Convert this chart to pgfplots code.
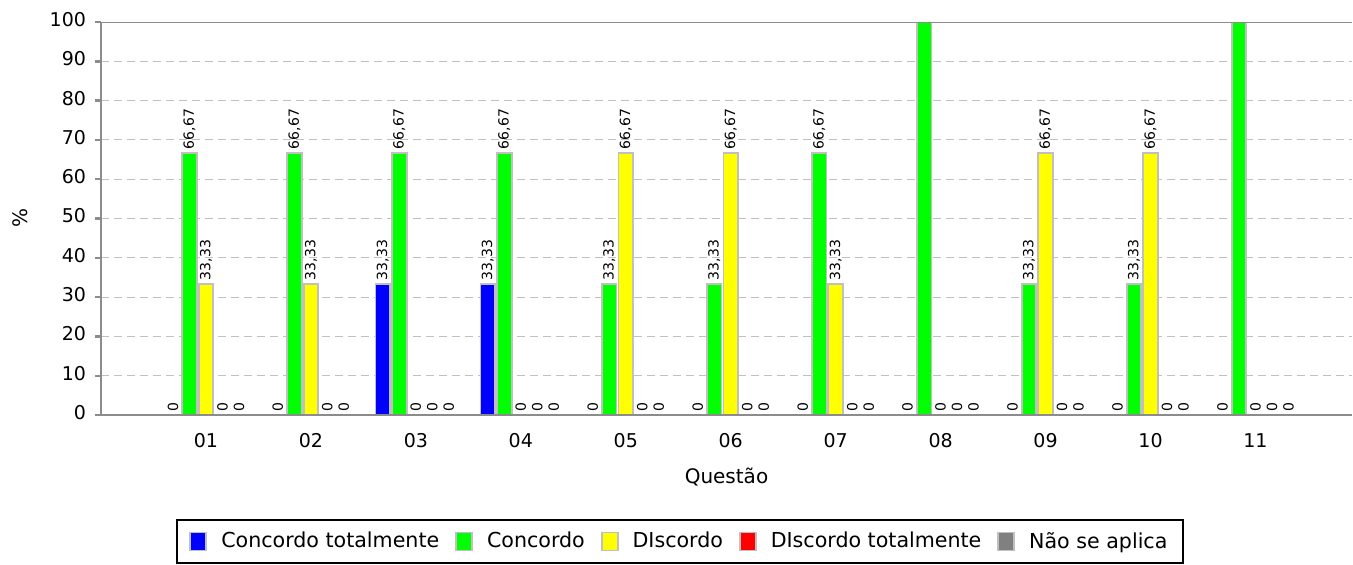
\documentclass[border=0pt]{standalone}
\usepackage{fontspec}
\setmainfont{DejaVu Sans}
\usepackage{pgfplots}
\pgfplotsset{compat=1.18}
\usepackage{pgfplotstable}

\definecolor{cBlue}{HTML}{0000FF}
\definecolor{cGreen}{HTML}{00FF00}
\definecolor{cYellow}{HTML}{FFFF00}
\definecolor{cRed}{HTML}{FF0000}
\definecolor{cGray}{HTML}{808080}
\definecolor{cBorder}{HTML}{C0C0C0}
\definecolor{cAxis}{HTML}{8C8C8C}

% values and their printed labels (labels above 100 are outside the plot and not shown)
\pgfplotstableread{
x  ct     c      d      dt  na  lct    lc     ld     ldt  lna
1  0      66.67  33.33  0   0   0      66,67  33,33  0    0
2  0      66.67  33.33  0   0   0      66,67  33,33  0    0
3  33.33  66.67  0      0   0   33,33  66,67  0      0    0
4  33.33  66.67  0      0   0   33,33  66,67  0      0    0
5  0      33.33  66.67  0   0   0      33,33  66,67  0    0
6  0      33.33  66.67  0   0   0      33,33  66,67  0    0
7  0      66.67  33.33  0   0   0      66,67  33,33  0    0
8  0      100    0      0   0   0      {}     0      0    0
9  0      33.33  66.67  0   0   0      33,33  66,67  0    0
10 0      33.33  66.67  0   0   0      33,33  66,67  0    0
11 0      100    0      0   0   0      {}     0      0    0
}\data

\pgfplotsset{sqlegend/.style={legend image code/.code={\draw[##1,line width=0.9pt] (0pt,-4.5pt) rectangle (8pt,4.5pt);}}}

\begin{document}
\begin{tikzpicture}
\path[use as bounding box] (-50.5pt,-74.5pt) rectangle (626pt,207.5pt);
\begin{axis}[
  at={(0,0)}, anchor=south west,
  scale only axis, width=625.5pt, height=196.5pt,
  xmin=0, xmax=11.92, ymin=0, ymax=100,
  ybar=0.95pt, bar width=7.3pt,
  axis x line*=bottom, axis y line*=left,
  axis line style={cAxis, line width=1.2pt},
  xtick={1,...,11},
  xticklabels={01,02,03,04,05,06,07,08,09,10,11},
  x tick style={draw=none},
  ytick={0,10,...,100},
  y tick style={cAxis, line width=1.2pt},
  tick align=outside, major tick length=3pt,
  ymajorgrids,
  grid style={cBorder, line width=0.5pt, dash pattern=on 4pt off 2.5pt},
  /pgf/number format/assume math mode=true,
  tick label style={font=\fontsize{9.5}{11}\selectfont},
  typeset ticklabels with strut,
  x tick label style={yshift=-2pt},
  y tick label style={xshift=-1pt},
  xlabel={Questão}, ylabel={\%},
  label style={font=\fontsize{9.5}{11}\selectfont},
  every axis x label/.style={at={(axis description cs:0.5,-0.158)}, anchor=center},
  every axis y label/.style={at={(axis description cs:-0.0647,0.501)}, anchor=center, rotate=90},
  point meta=explicit symbolic,
  nodes near coords,
  nodes near coords style={rotate=90, anchor=west, font=\fontsize{7}{8}\selectfont, inner sep=1.5pt, text=black},
  legend columns=5,
  legend style={at={(0.4632,-0.2646)}, anchor=north, draw=black, line width=1pt,
    font=\fontsize{10.3}{12}\selectfont, inner xsep=6pt, inner ysep=4pt,
    /tikz/every odd column/.append style={column sep=5pt},
    /tikz/every even column/.append style={column sep=6pt}},
  legend cell align=left,
]
\addplot[fill=cBlue, draw=cBorder, line width=0.9pt, sqlegend] table[x=x,y=ct,meta=lct]{\data};
\addplot[fill=cGreen, draw=cBorder, line width=0.9pt, sqlegend] table[x=x,y=c,meta=lc]{\data};
\addplot[fill=cYellow, draw=cBorder, line width=0.9pt, sqlegend] table[x=x,y=d,meta=ld]{\data};
\addplot[fill=cRed, draw=cBorder, line width=0.9pt, sqlegend] table[x=x,y=dt,meta=ldt]{\data};
\addplot[fill=cGray, draw=cBorder, line width=0.9pt, sqlegend] table[x=x,y=na,meta=lna]{\data};
\legend{Concordo totalmente, Concordo, DIscordo, DIscordo totalmente, Não se aplica}
\draw[cAxis, line width=0.8pt] (rel axis cs:0,1) -- (rel axis cs:1,1);
\draw[cAxis, line width=1.2pt] (rel axis cs:0,0) -- (rel axis cs:1,0);
\end{axis}
\end{tikzpicture}
\end{document}
